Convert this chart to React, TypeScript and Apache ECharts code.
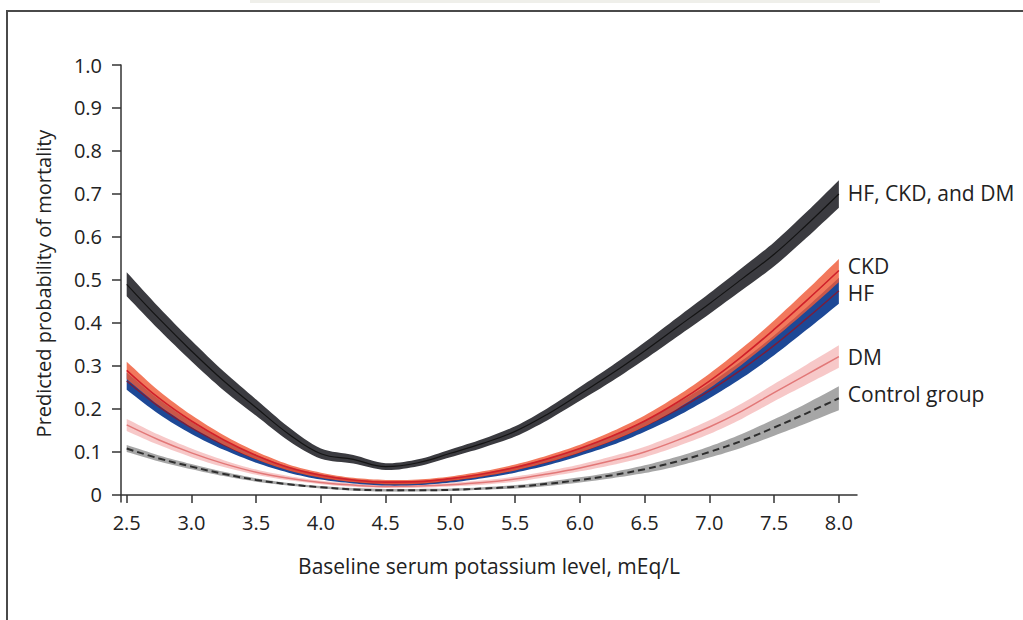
import React, { useEffect, useRef } from "react";
import * as echarts from "echarts";

const xs = [2.5, 2.75, 3.0, 3.25, 3.5, 3.75, 4.0, 4.25, 4.5, 4.75, 5.0, 5.25, 5.5, 5.75, 6.0, 6.25, 6.5, 6.75, 7.0, 7.25, 7.5, 7.75, 8.0];

const allThree = [0.49, 0.41, 0.335, 0.265, 0.203, 0.142, 0.096, 0.083, 0.066, 0.075, 0.097, 0.12, 0.148, 0.188, 0.235, 0.283, 0.335, 0.39, 0.445, 0.502, 0.56, 0.628, 0.7];
const allThreeHalf = [0.028, 0.026, 0.024, 0.022, 0.019, 0.016, 0.012, 0.01, 0.008, 0.008, 0.009, 0.01, 0.012, 0.014, 0.016, 0.018, 0.02, 0.022, 0.024, 0.026, 0.028, 0.03, 0.032];

const ckd = [0.29, 0.225, 0.172, 0.128, 0.092, 0.064, 0.046, 0.035, 0.03, 0.031, 0.038, 0.049, 0.064, 0.084, 0.108, 0.137, 0.172, 0.215, 0.265, 0.322, 0.385, 0.452, 0.522];
const ckdHalf = [0.02, 0.017, 0.014, 0.011, 0.009, 0.007, 0.006, 0.005, 0.005, 0.005, 0.005, 0.006, 0.007, 0.008, 0.009, 0.011, 0.013, 0.015, 0.017, 0.019, 0.021, 0.024, 0.027];

const hf = [0.265, 0.205, 0.156, 0.116, 0.084, 0.059, 0.042, 0.032, 0.027, 0.028, 0.034, 0.045, 0.059, 0.077, 0.1, 0.127, 0.16, 0.198, 0.242, 0.292, 0.348, 0.41, 0.475];
const hfHalf = [0.02, 0.017, 0.014, 0.011, 0.009, 0.007, 0.006, 0.005, 0.005, 0.005, 0.005, 0.006, 0.007, 0.008, 0.009, 0.011, 0.013, 0.015, 0.017, 0.02, 0.023, 0.026, 0.03];

const dm = [0.163, 0.128, 0.098, 0.073, 0.053, 0.039, 0.029, 0.023, 0.02, 0.021, 0.024, 0.029, 0.037, 0.049, 0.063, 0.08, 0.1, 0.127, 0.158, 0.195, 0.238, 0.28, 0.322];
const dmHalf = [0.014, 0.012, 0.01, 0.008, 0.006, 0.005, 0.004, 0.004, 0.004, 0.004, 0.004, 0.005, 0.006, 0.007, 0.008, 0.01, 0.012, 0.014, 0.016, 0.018, 0.02, 0.023, 0.026];

const control = [0.108, 0.085, 0.066, 0.049, 0.035, 0.025, 0.018, 0.013, 0.011, 0.011, 0.012, 0.015, 0.019, 0.026, 0.035, 0.046, 0.06, 0.078, 0.1, 0.126, 0.157, 0.19, 0.225];
const controlHalf = [0.008, 0.007, 0.006, 0.005, 0.004, 0.003, 0.003, 0.003, 0.003, 0.003, 0.003, 0.003, 0.004, 0.005, 0.006, 0.007, 0.009, 0.011, 0.013, 0.016, 0.019, 0.023, 0.028];

const xTicks = [2.5, 3.0, 3.5, 4.0, 4.5, 5.0, 5.5, 6.0, 6.5, 7.0, 7.5, 8.0];
const yTicks = [0, 0.1, 0.2, 0.3, 0.4, 0.5, 0.6, 0.7, 0.8, 0.9, 1.0];

const FONT = "Open Sans";

type Group = {
  name: string;
  center: number[];
  half: number[];
  band: string;
  bandOpacity: number;
  line: string;
  lineWidth: number;
  dashed?: boolean;
  labelDy: number;
};

const groups: Group[] = [
  { name: "Control group", center: control, half: controlHalf, band: "#9c9c9c", bandOpacity: 0.9, line: "#2e2e2e", lineWidth: 2, dashed: true, labelDy: -4 },
  { name: "DM", center: dm, half: dmHalf, band: "#f6c2c2", bandOpacity: 0.9, line: "#e27878", lineWidth: 1.5, labelDy: 0 },
  { name: "HF", center: hf, half: hfHalf, band: "#1d4896", bandOpacity: 1, line: "#7b1d3a", lineWidth: 1.5, labelDy: 2 },
  { name: "CKD", center: ckd, half: ckdHalf, band: "#ef5a38", bandOpacity: 0.82, line: "#d0202a", lineWidth: 1.6, labelDy: -5 },
  { name: "HF, CKD, and DM", center: allThree, half: allThreeHalf, band: "#3b3b40", bandOpacity: 1, line: "#141414", lineWidth: 1.2, labelDy: -1 },
];

function buildSeries() {
  const series: any[] = [];
  groups.forEach((g, gi) => {
    const bandData = xs.map((x, i) => [x, g.center[i] - g.half[i], g.center[i] + g.half[i]]);
    series.push({
      type: "custom",
      name: g.name + "-band",
      data: bandData,
      encode: { x: 0, y: [1, 2] },
      silent: true,
      z: 2 + gi * 3,
      renderItem: (params: any, api: any) => {
        if (params.dataIndex !== 0) return null;
        const upper = bandData.map((d) => api.coord([d[0], d[2]]));
        const lower = bandData.map((d) => api.coord([d[0], d[1]])).reverse();
        // repeat the corner points so the smoothing keeps the band ends square
        const pts = [upper[0], ...upper, upper[upper.length - 1], lower[0], ...lower, lower[lower.length - 1]];
        return {
          type: "polygon",
          shape: { points: pts, smooth: 0.3 },
          style: { fill: g.band, opacity: g.bandOpacity },
        };
      },
    });
    series.push({
      type: "line",
      name: g.name,
      data: xs.map((x, i) => [x, g.center[i]]),
      smooth: 0.4,
      symbol: "none",
      lineStyle: { color: g.line, width: g.lineWidth, type: g.dashed ? [7, 4] : "solid" },
      silent: true,
      z: 3 + gi * 3,
      endLabel: {
        show: true,
        formatter: g.name,
        distance: 9,
        offset: [0, g.labelDy],
        color: "#222",
        fontSize: 21,
        fontFamily: FONT,
      },
    });
  });
  return series;
}

export default function App() {
  const ref = useRef<HTMLDivElement>(null);
  useEffect(() => {
    if (!ref.current) return;
    const chart = echarts.init(ref.current, undefined, { renderer: "svg" });
    chart.setOption({
      animation: false,
      backgroundColor: "#ffffff",
      textStyle: { fontFamily: FONT },
      grid: { left: 121, top: 65, right: 166, bottom: 118, containLabel: false },
      xAxis: {
        type: "value",
        min: 2.456,
        max: 8.14,
        name: "Baseline serum potassium level, mEq/L",
        nameLocation: "middle",
        nameGap: 53,
        nameTextStyle: { fontSize: 21, color: "#222", fontFamily: FONT },
        axisLine: { show: true, lineStyle: { color: "#333", width: 1.5 } },
        axisTick: { show: true, length: 8, lineStyle: { color: "#333", width: 1.5 }, customValues: xTicks },
        axisLabel: {
          customValues: xTicks,
          formatter: (v: number) => v.toFixed(1),
          fontSize: 20,
          color: "#222",
          margin: 10,
          fontFamily: FONT,
        },
        splitLine: { show: false },
      },
      yAxis: {
        type: "value",
        min: -0.0163,
        max: 1.0,
        name: "Predicted probability of mortality",
        nameLocation: "middle",
        nameGap: 68,
        nameTextStyle: { fontSize: 20, color: "#222", fontFamily: FONT },
        axisLine: { show: true, lineStyle: { color: "#333", width: 1.5 } },
        axisTick: { show: true, length: 9, lineStyle: { color: "#333", width: 1.5 }, customValues: yTicks },
        axisLabel: {
          customValues: yTicks,
          formatter: (v: number) => (v === 0 ? "0" : v.toFixed(1)),
          fontSize: 20,
          color: "#222",
          margin: 19,
          fontFamily: FONT,
        },
        splitLine: { show: false },
      },
      graphic: [
        {
          type: "rect",
          shape: { x: 7, y: 11, width: 1100, height: 700 },
          style: { fill: "none", stroke: "#4a4a4a", lineWidth: 2 },
          silent: true,
        },
        {
          type: "rect",
          shape: { x: 250, y: 0, width: 630, height: 3 },
          style: { fill: "#efefea" },
          silent: true,
        },
      ],
      series: buildSeries(),
    });
    return () => chart.dispose();
  }, []);
  return (
    <div
      ref={ref}
      style={{ position: "absolute", left: 0, top: 0, width: 1023, height: 620, background: "#fff" }}
    />
  );
}
